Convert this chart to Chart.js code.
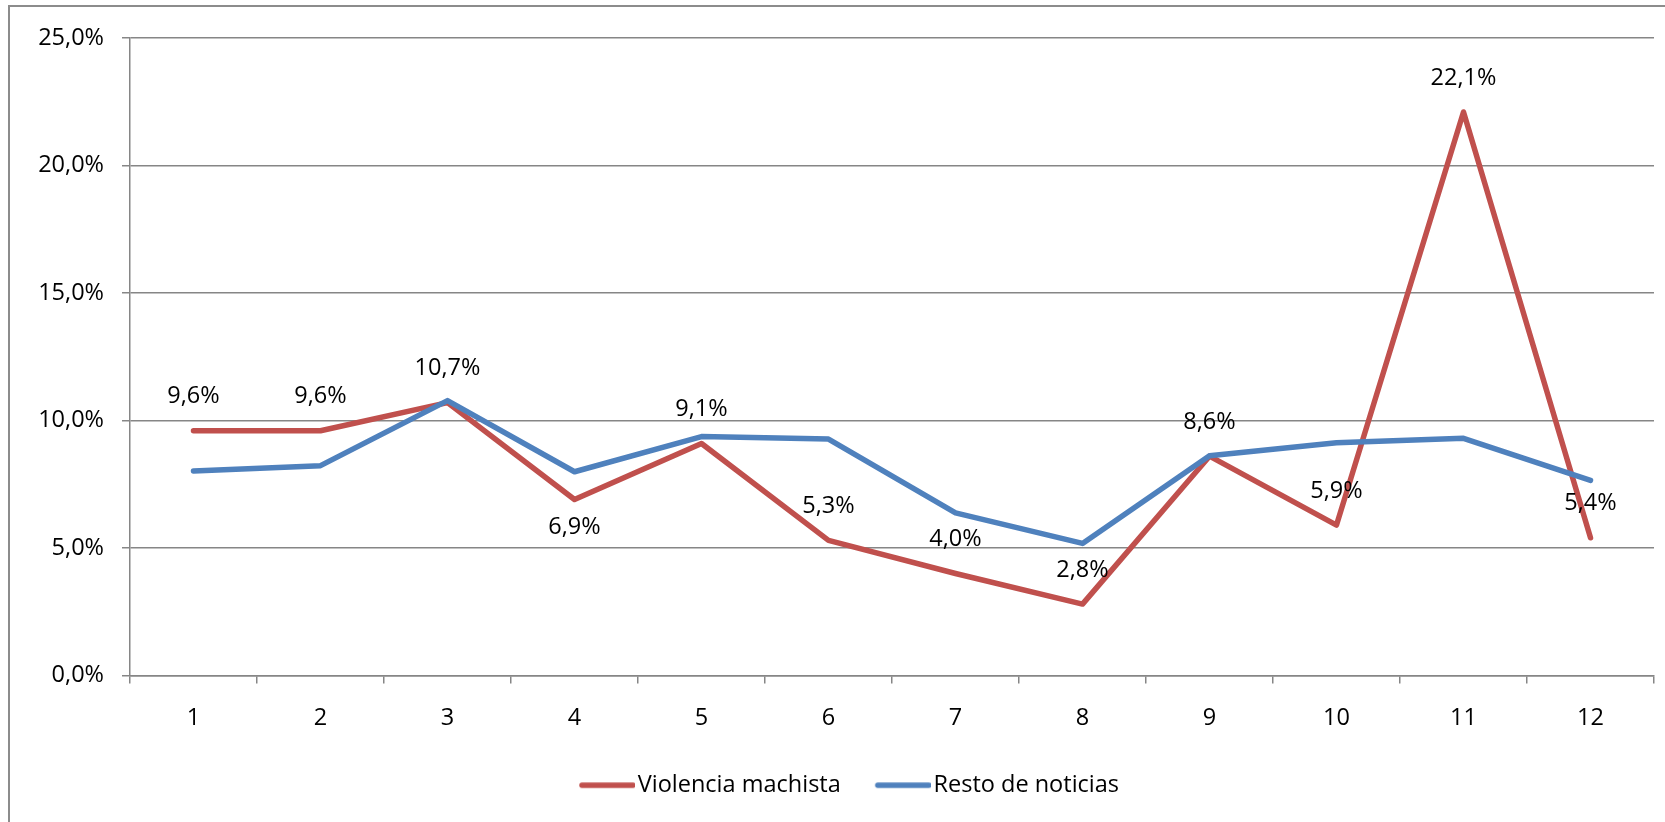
<!DOCTYPE html>
<html><head><meta charset="utf-8">
<script src="https://cdn.jsdelivr.net/npm/chart.js@4"></script>
<style>
html,body{margin:0;padding:0;background:#fff;overflow:hidden;}
#wrap{position:relative;width:1665px;height:822px;overflow:hidden;}
#frame{position:absolute;left:8px;top:5px;width:1700px;height:900px;border:2px solid #8c8c8c;box-sizing:border-box;}
canvas{position:absolute;left:0;top:0;}
</style></head><body>
<div id="wrap"><div id="frame"></div><canvas id="c" width="1665" height="822"></canvas></div>
<script>
const categories = ['1','2','3','4','5','6','7','8','9','10','11','12'];
const violencia = [9.6, 9.6, 10.7, 6.9, 9.1, 5.3, 4.0, 2.8, 8.6, 5.9, 22.1, 5.4];
const resto = [8.02, 8.23, 10.78, 7.99, 9.37, 9.27, 6.38, 5.18, 8.62, 9.13, 9.30, 7.65];
const seriesNames = ['Violencia machista', 'Resto de noticias'];
const yMin = 0, yMax = 25, yStep = 5;
const labelSide = ['above','above','above','below','above','above','above','above','above','above','above','above'];

const FONT = "'Open Sans', 'Noto Sans', sans-serif";
const FS = 23.5;
const fmt = v => v.toFixed(1).replace('.', ',') + '%';

// legend swatch: a short thick line placed at the right of its image so it sits close to the text
function swatch(color) {
  const c = document.createElement('canvas');
  c.width = 71; c.height = 10;
  const g = c.getContext('2d');
  g.strokeStyle = color; g.lineWidth = 5.5; g.lineCap = 'round';
  g.beginPath(); g.moveTo(18, 5); g.lineTo(69, 5); g.stroke();
  return c;
}

const dataLabels = {
  id: 'dataLabels',
  afterDatasetsDraw(chart) {
    const meta = chart.getDatasetMeta(0);
    const ctx = chart.ctx;
    ctx.save();
    ctx.font = FS + "px " + FONT;
    ctx.fillStyle = '#000';
    ctx.textAlign = 'center';
    ctx.textBaseline = 'middle';
    meta.data.forEach((pt, i) => {
      const dy = labelSide[i] === 'below' ? 28 : -34;
      ctx.fillText(fmt(violencia[i]), pt.x, pt.y + dy);
    });
    ctx.restore();
  }
};

const legendShift = {
  id: 'legendShift',
  afterLayout(chart) {
    if (chart.legend) { chart.legend.left += 19; chart.legend.right += 19; }
  }
};

new Chart(document.getElementById('c'), {
  type: 'line',
  data: {
    labels: categories,
    datasets: [
      { label: seriesNames[0], data: violencia, borderColor: '#C0504D', backgroundColor: '#C0504D',
        borderWidth: 5.5, pointRadius: 0, pointStyle: swatch('#C0504D'), tension: 0,
        borderCapStyle: 'round', borderJoinStyle: 'round', order: 1 },
      { label: seriesNames[1], data: resto, borderColor: '#4F81BD', backgroundColor: '#4F81BD',
        borderWidth: 5.5, pointRadius: 0, pointStyle: swatch('#4F81BD'), tension: 0,
        borderCapStyle: 'round', borderJoinStyle: 'round', order: 0 }
    ]
  },
  options: {
    responsive: false,
    animation: false,
    events: [],
    layout: { padding: { left: 0, right: 11, top: 38, bottom: 15 } },
    scales: {
      x: {
        offset: true,
        grid: { drawOnChartArea: false, drawTicks: true, tickLength: 8, color: '#868686', lineWidth: 1.5, offset: true },
        border: { color: '#868686', width: 1.5 },
        ticks: { color: '#000', font: { size: FS, family: FONT }, padding: 21, maxRotation: 0 },
        afterFit(s) { s.height = 70; }
      },
      y: {
        min: yMin, max: yMax,
        grid: { color: '#868686', lineWidth: 1.5, tickLength: 8 },
        border: { color: '#868686', width: 1.5 },
        ticks: { stepSize: yStep, color: '#000', font: { size: FS, family: FONT }, padding: 18, callback: v => fmt(v) },
        afterFit(s) { s.width = 130; }
      }
    },
    plugins: {
      legend: {
        position: 'bottom',
        labels: {
          usePointStyle: true, pointStyleWidth: 53,
          color: '#000', font: { size: FS, family: FONT }, padding: 28,
          sort: (a, b) => a.datasetIndex - b.datasetIndex
        }
      },
      tooltip: { enabled: false },
      title: { display: false }
    }
  },
  plugins: [dataLabels, legendShift]
});
</script>
</body></html>
